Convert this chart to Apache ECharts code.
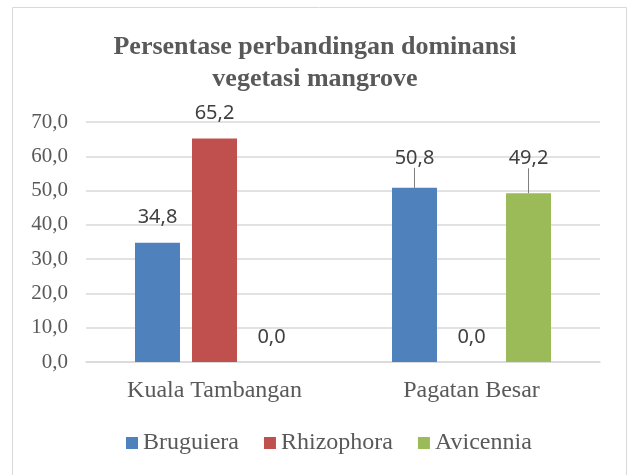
<!DOCTYPE html>
<html>
<head>
<meta charset="utf-8">
<script src="https://cdn.jsdelivr.net/npm/echarts@6/dist/echarts.min.js"></script>
<style>
html,body{margin:0;padding:0;background:#fff;}
#c{width:630px;height:475px;}
</style>
</head>
<body>
<div id="c"></div>
<script>
const categories = ['Kuala Tambangan', 'Pagatan Besar'];
const seriesNames = ['Bruguiera', 'Rhizophora', 'Avicennia'];
const bruguiera = [34.8, 50.8];
const rhizophora = [65.2, 0.0];
const avicennia = [0.0, 49.2];
const yTicks = [0, 10, 20, 30, 40, 50, 60, 70];

const colors = ['#4F81BD', '#C0504D', '#9BBB59'];
const fmt = v => Number(v).toFixed(1).replace('.', ',');
const serif = '"Liberation Serif", "Times New Roman", serif';
const sans = '"Noto Sans", "Open Sans", sans-serif';

// labels moved upward (with leader lines) in the original, by series and category
const labelShift = {'0-1': -5, '2-1': -10};

const chart = echarts.init(document.getElementById('c'), null, {renderer: 'canvas'});
const values = [bruguiera, rhizophora, avicennia];

const option = {
  animation: false,
  color: colors,
  graphic: [{
    type: 'rect', z: -10,
    shape: {x: 12.5, y: 7.5, width: 614, height: 490},
    style: {fill: '#fff', stroke: '#d9d9d9', lineWidth: 1}
  }],
  title: {
    text: 'Persentase perbandingan dominansi\nvegetasi mangrove',
    left: 'center',
    top: 26,
    textStyle: {fontFamily: serif, fontSize: 26, fontWeight: 'bold', color: '#595959', lineHeight: 32}
  },
  legend: {
    data: seriesNames,
    bottom: 15,
    left: 121,
    icon: 'rect',
    itemWidth: 12,
    itemHeight: 12,
    itemGap: 25,
    textStyle: {fontFamily: serif, fontSize: 24, color: '#595959'}
  },
  grid: {left: 86, right: 30, top: 122, bottom: 113},
  xAxis: {
    type: 'category',
    data: categories,
    axisLine: {lineStyle: {color: '#d9d9d9', width: 1.5}},
    axisTick: {show: false},
    axisLabel: {fontFamily: serif, fontSize: 24, color: '#595959', margin: 17}
  },
  yAxis: {
    type: 'value',
    min: yTicks[0],
    max: yTicks[yTicks.length - 1],
    interval: 10,
    axisLine: {show: false},
    axisTick: {show: false},
    splitLine: {lineStyle: {color: '#d9d9d9', width: 1.5}},
    axisLabel: {fontFamily: serif, fontSize: 21, color: '#595959', margin: 18, formatter: v => fmt(v)}
  },
  labelLayout: function (p) {
    const k = p.seriesIndex + '-' + p.dataIndex;
    return labelShift[k] !== undefined ? {dy: labelShift[k]} : {};
  },
  series: seriesNames.map((name, i) => ({
    name: name,
    type: 'bar',
    barWidth: 45,
    barGap: '26.7%',
    data: values[i].map((v, j) => {
      const item = {value: v};
      if (labelShift[i + '-' + j] !== undefined) {
        item.labelLine = {show: true, lineStyle: {color: '#7f7f7f', width: 1}};
      }
      return item;
    }),
    itemStyle: {color: colors[i]},
    label: {
      show: true,
      position: 'top',
      distance: 15,
      fontFamily: sans,
      fontSize: 20,
      color: '#404040',
      formatter: p => fmt(p.value)
    },
    labelLine: {show: false}
  }))
};
chart.setOption(option);
</script>
</body>
</html>
